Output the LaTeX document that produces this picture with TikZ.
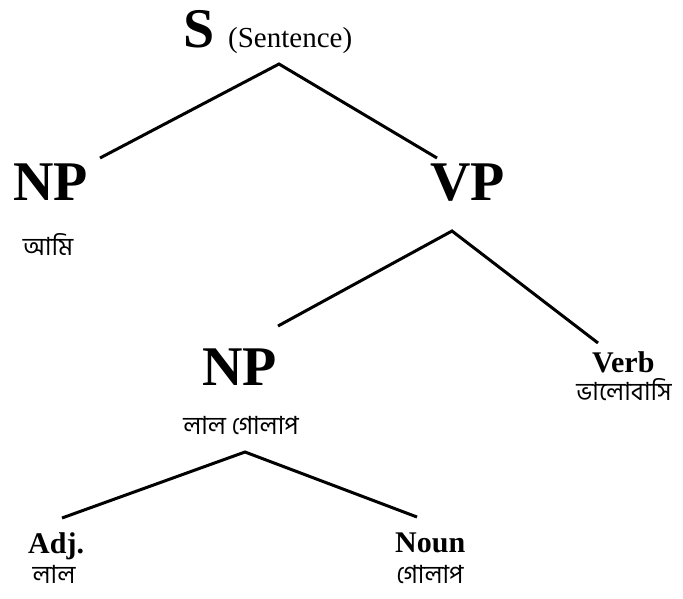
\documentclass[tikz,border=0pt]{standalone}
\usepackage{fontspec}
\setmainfont{Liberation Serif}
\newfontfamily\bn[Script=Bengali]{Hind Siliguri}
\begin{document}
\begin{tikzpicture}[x=1pt,y=-1pt,
  big/.style={font=\fontsize{56}{56}\selectfont\bfseries,inner sep=0pt,anchor=base west},
  small/.style={font=\fontsize{30}{30}\selectfont\bfseries,inner sep=0pt,anchor=base west},
  paren/.style={font=\fontsize{29}{29}\selectfont,inner sep=0pt,anchor=base west},
  beng/.style={font=\fontsize{25}{25}\selectfont\bn,inner sep=0pt,anchor=base},
  edge/.style={line width=3pt}]
\useasboundingbox (0,0) rectangle (683,598);
% labels
\node[big] (S) at (183,47) {S};
\node[paren] (sent) at (228,47) {(Sentence)};
\node[big] (NP1) at (13,200) {NP};
\node[beng] (ami) at (48,255) {আমি};
\node[big] (VP) at (430,200) {VP};
\node[big] (NP2) at (202,385) {NP};
\node[beng] (lalgolap) at (241,434) {লাল গোলাপ};
\node[small] (verb) at (592,372) {Verb};
\node[beng] (bhalo) at (624,400) {ভালোবাসি};
\node[small] (adj) at (28,553) {Adj.};
\node[beng] (lal) at (54,583) {লাল};
\node[small] (noun) at (395,552) {Noun};
\node[beng] (golap) at (430,583) {গোলাপ};
% branch points
\coordinate (sTop) at (279,64);
\coordinate (sL) at (100,158);
\coordinate (sR) at (437,158);
\coordinate (vTop) at (452,231);
\coordinate (vL) at (278,326);
\coordinate (vR) at (598,343);
\coordinate (nTop) at (245,452);
\coordinate (nL) at (62,518);
\coordinate (nR) at (417,517);
\draw[edge] (sL) -- (sTop) -- (sR);
\draw[edge] (vL) -- (vTop) -- (vR);
\draw[edge] (nL) -- (nTop) -- (nR);
\end{tikzpicture}
\end{document}
